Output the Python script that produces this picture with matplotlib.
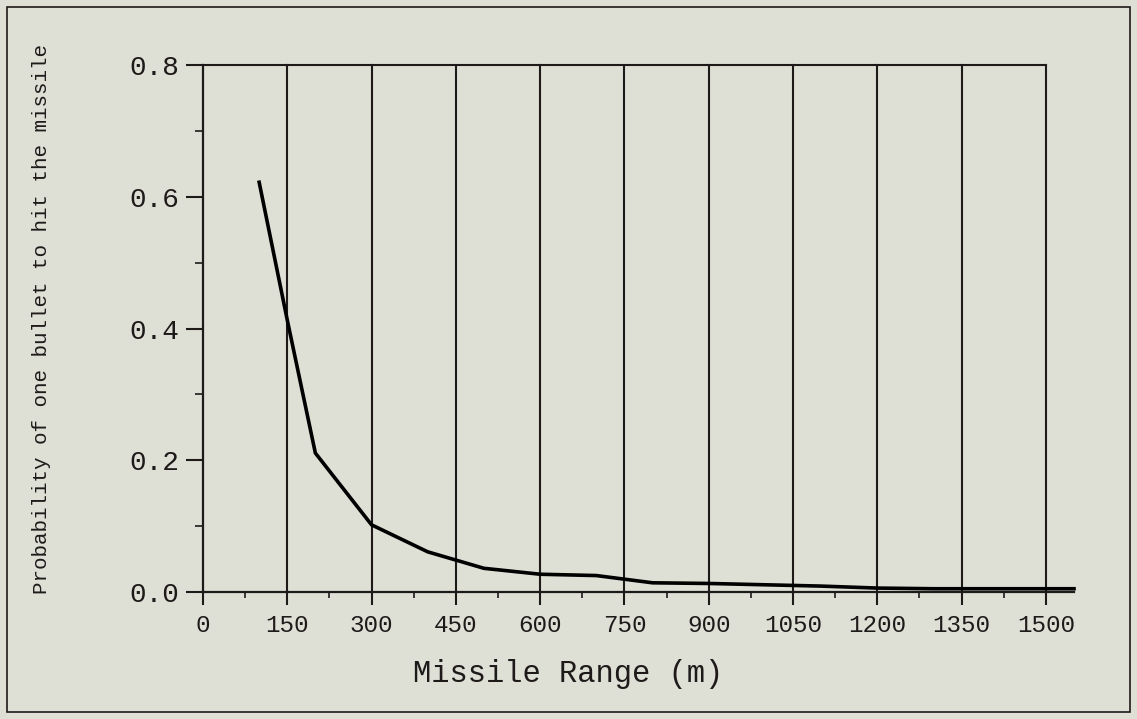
import matplotlib
matplotlib.use("Agg")
import matplotlib.pyplot as plt
from matplotlib.patches import Rectangle

# data
missile_range = [100, 150, 200, 300, 400, 500, 600, 700, 800, 900, 1000,
                 1100, 1200, 1300, 1400, 1500, 1550]
p_hit = [0.622, 0.413, 0.211, 0.102, 0.061, 0.036, 0.027, 0.025, 0.014,
         0.013, 0.011, 0.009, 0.006, 0.005, 0.005, 0.005, 0.005]
x_ticks = [0, 150, 300, 450, 600, 750, 900, 1050, 1200, 1350, 1500]
y_ticks = [0.0, 0.2, 0.4, 0.6, 0.8]

bg = "#dedfd5"
ink = "#1e1a1a"
font = "Liberation Mono"

fig = plt.figure(figsize=(11.37, 7.19), dpi=100, facecolor=bg)
ax = fig.add_axes([0.1785, 0.1766, 0.9446 - 0.1785, 0.9096 - 0.1766])
ax.set_facecolor(bg)

# outer frame
fig.patches.append(Rectangle((7 / 1137, 7 / 719), 1123 / 1137, 705 / 719,
                             transform=fig.transFigure, fill=False,
                             edgecolor=ink, linewidth=1.2))

ax.set_xlim(0, 1550)
ax.set_ylim(0, 0.8)

# vertical grid lines at each major x tick
for xv in x_ticks[1:]:
    ax.plot([xv, xv], [0, 0.8], color=ink, lw=1.5, clip_on=False, zorder=1)
# top line only spans up to 1500
ax.plot([0, x_ticks[-1]], [0.8, 0.8], color=ink, lw=1.5, clip_on=False)

ax.plot(missile_range, p_hit, color="black", lw=2.6, clip_on=False, zorder=3)

for s in ["top", "right"]:
    ax.spines[s].set_visible(False)
for s in ["left", "bottom"]:
    ax.spines[s].set_color(ink)
    ax.spines[s].set_linewidth(1.6)

ax.set_xticks(x_ticks)
ax.set_xticks([v + 75 for v in x_ticks[:-1]], minor=True)
ax.set_yticks(y_ticks)
ax.set_yticks([0.1, 0.3, 0.5, 0.7], minor=True)
ax.set_xticklabels([str(v) for v in x_ticks])
ax.set_yticklabels(["%.1f" % v for v in y_ticks])

ax.tick_params(axis="x", which="major", length=9.5, width=1.5, color=ink,
               pad=6, labelsize=17.5, labelcolor=ink)
ax.tick_params(axis="x", which="minor", length=4.5, width=1.2, color=ink)
ax.tick_params(axis="y", which="major", length=12, width=1.5, color=ink,
               pad=5, labelsize=20, labelcolor=ink)
ax.tick_params(axis="y", which="minor", length=6, width=1.2, color=ink)
for lab in ax.get_xticklabels() + ax.get_yticklabels():
    lab.set_fontfamily(font)

fig.text(0.4996, 1 - 674 / 719, "Missile Range (m)", fontfamily=font,
         fontsize=22, color=ink, ha="center", va="center")
ax.set_ylabel("Probability of one bullet to hit the missile", fontfamily=font,
              fontsize=15, color=ink)
ax.yaxis.set_label_coords(-0.174, 0.518)

fig.savefig("out.png", dpi=100, facecolor=bg)
